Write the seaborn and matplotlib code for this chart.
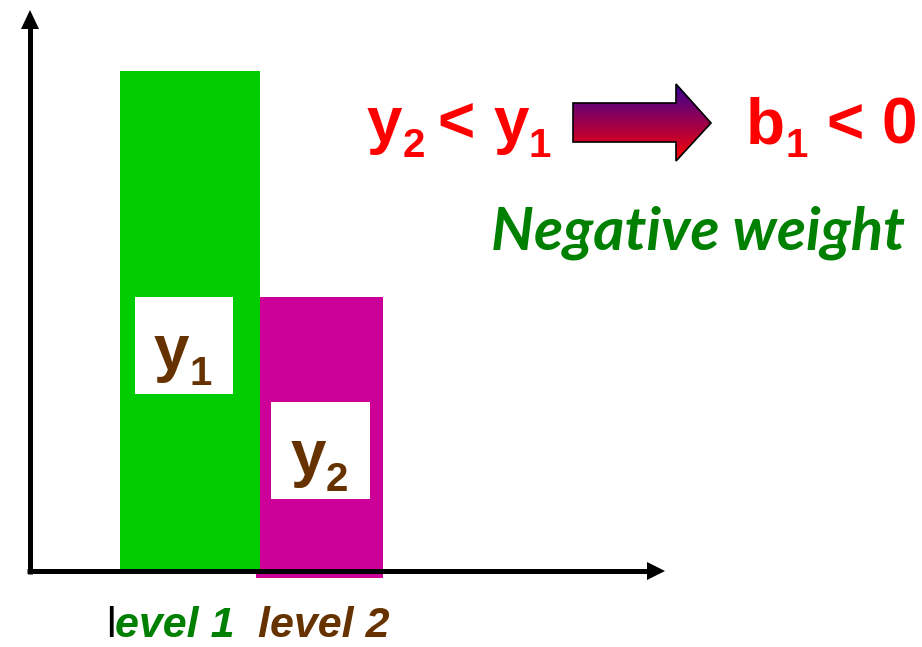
import numpy as np
import matplotlib
matplotlib.use("Agg")
import matplotlib.pyplot as plt
from matplotlib.patches import Rectangle, Polygon
from matplotlib.transforms import Affine2D
import seaborn as sns

# ---- data -------------------------------------------------------------
levels = ["level 1", "level 2"]
means = [10.0, 5.48]          # group means y1, y2 (arbitrary units)
bar_colors = ["#00CC00", "#CC0099"]

# ---- figure setup -----------------------------------------------------
W, H = 922, 647
sns.set_theme(style="white")
plt.rcParams["font.family"] = ["Liberation Sans", "DejaVu Sans"]

fig = plt.figure(figsize=(W / 100, H / 100), dpi=100)
ax = fig.add_axes([0, 0, 1, 1])
ax.set_axis_off()

# pixel frame with origin at top-left, used for annotations
P = Affine2D().scale(1 / W, -1 / H).translate(0, 1) + fig.transFigure

# data <-> pixel mapping of the axes
X0, XS = 190.0, 131.5   # pixel of category 0, pixels per category step
Y0, YS = 571.0, 50.0    # pixel of y = 0, pixels per unit


def X(px):
    return (px - X0) / XS


def Y(py):
    return (Y0 - py) / YS


# ---- bars -------------------------------------------------------------
sns.barplot(x=levels, y=means, hue=levels, palette=bar_colors,
            saturation=1, width=1.0, legend=False, ax=ax)

bars = [c.patches[0] for c in ax.containers]
g_bar, m_bar = bars
g_bar.set_x(X(120)); g_bar.set_width((260 - 120) / XS)
g_bar.set_zorder(3)
m_bar.set_x(X(256)); m_bar.set_width((383 - 256) / XS)
m_bar.set_y(-0.14); m_bar.set_height(means[1] + 0.14)
m_bar.set_zorder(2)
for b in bars:
    b.set_linewidth(0)

# ---- axis arrows ------------------------------------------------------
lw = 3.6
ax.plot([30, 30], [574, 26], color="black", lw=lw, transform=P,
        solid_capstyle="butt", zorder=4)
ax.add_patch(Polygon([(21, 29), (39, 29), (30, 10)], closed=True,
                     facecolor="black", edgecolor="none", transform=P, zorder=4))
ax.plot([27, 649], [571, 571], color="black", lw=lw, transform=P,
        solid_capstyle="butt", zorder=4)
ax.add_patch(Polygon([(647, 562), (647, 580), (665, 571)], closed=True,
                     facecolor="black", edgecolor="none", transform=P, zorder=4))

# ---- white label boxes on the bars ------------------------------------
for (x0, y0, x1, y1) in [(135, 297, 233, 394), (271, 402, 370, 499)]:
    ax.add_patch(Rectangle((x0, y0), x1 - x0, y1 - y0, facecolor="white",
                           edgecolor="none", transform=P, zorder=4))

BIG, SUB = 46, 29


def put(x, y, s, size, color, **kw):
    return fig.text(x, y, s, transform=P, fontsize=size, color=color,
                    ha="left", va="baseline", zorder=6, **kw)


brown = "#663300"
red = "#FF0000"
dgreen = "#008000"

# y1 / y2 inside the boxes
put(154, 370, "y", BIG, brown, fontweight="bold")
put(189, 385, "1", SUB, brown, fontweight="bold")
put(291, 475, "y", BIG, brown, fontweight="bold")
put(326, 491, "2", SUB, brown, fontweight="bold")

# y2 < y1
put(367, 142, "y", BIG, red, fontweight="bold")
put(403, 157, "2", SUB, red, fontweight="bold")
put(437, 142, "<", BIG, red, fontweight="bold")
put(494, 142, "y", BIG, red, fontweight="bold")
put(528, 157, "1", SUB, red, fontweight="bold")

# b1 < 0
put(746, 143, "b", BIG, red, fontweight="bold")
put(785, 157, "1", SUB, red, fontweight="bold")
put(826, 143, "<", BIG, red, fontweight="bold")
put(881, 143, "0", BIG, red, fontweight="bold")

# gradient block arrow
arrow_pts = [(573, 103), (676, 103), (676, 84), (711, 123), (676, 161),
             (676, 142), (573, 142)]
ax.add_patch(Polygon(arrow_pts, closed=True, facecolor="none",
                     edgecolor="black", lw=1.2, transform=P, zorder=6))
top_c = np.array([0x33, 0x00, 0x99]) / 255
bot_c = np.array([0xFF, 0x00, 0x00]) / 255
t = np.linspace(0, 1, 256)[:, None, None]
grad = top_c[None, None, :] * (1 - t) + bot_c[None, None, :] * t
grad = np.repeat(grad, 2, axis=1)
img = ax.imshow(grad, extent=[X(573), X(711), Y(161), Y(84)],
                aspect="auto", origin="upper", zorder=5,
                interpolation="bilinear")
img.set_clip_path(Polygon(arrow_pts, closed=True, transform=P))

# Negative weight, sized to span its line
renderer = fig.canvas.get_renderer()
nw = put(491, 249, "Negative weight", 40, dgreen, fontweight="bold",
         fontstyle="italic", family=["Lato", "DejaVu Sans"])
bb = nw.get_window_extent(renderer)
nw.set_fontsize(40 * (414 / (bb.width * W / fig.bbox.width)))

# category labels under the bars
put(106, 637, "l", 31, "black")
put(115, 637, "evel 1", 31, dgreen, fontweight="bold", fontstyle="italic")
put(258, 637, "level 2", 31, brown, fontweight="bold", fontstyle="italic")

ax.set_xlim(X(0), X(W))
ax.set_ylim(Y(H), Y(0))

fig.savefig("out.png", dpi=100, facecolor="white")
